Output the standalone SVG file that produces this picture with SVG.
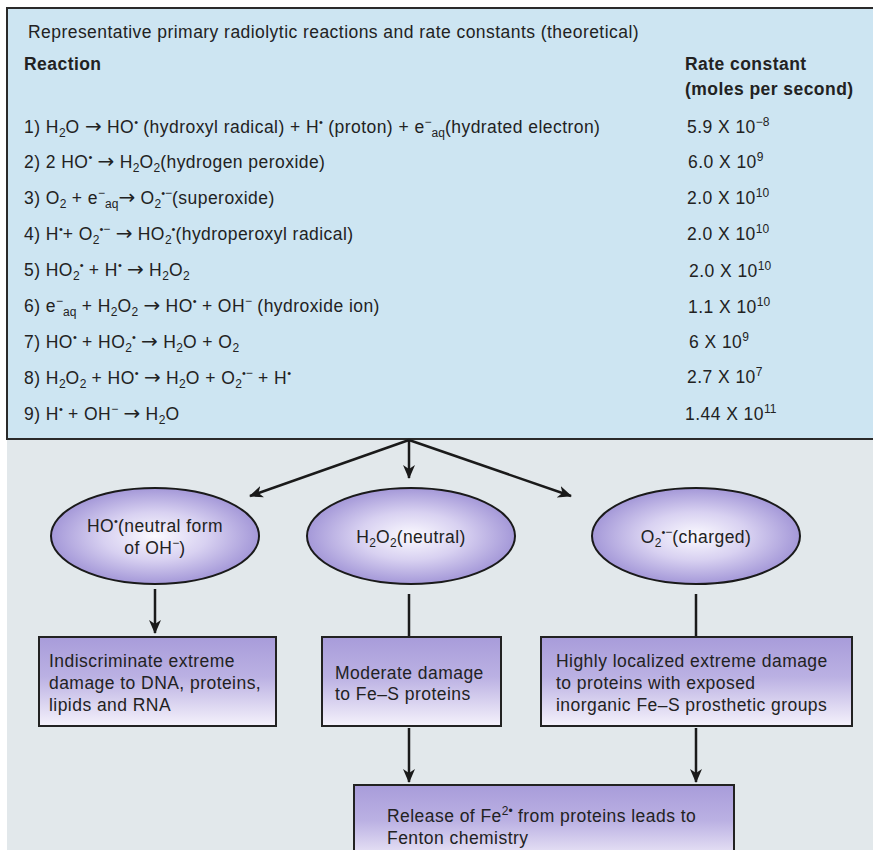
<svg xmlns="http://www.w3.org/2000/svg" width="873" height="850" viewBox="0 0 873 850">
<style>
text{font-family:"Liberation Sans",Arial,Helvetica,sans-serif;font-size:17.5px;letter-spacing:0.45px;fill:#222}
.b{font-weight:bold}
.s{font-size:12px;letter-spacing:0}
.d{font-size:11px;letter-spacing:0}
.a{font-family:"DejaVu Sans",sans-serif;font-size:20px;letter-spacing:0}
.c{text-anchor:middle}
.ln{stroke:#1a1a1a;stroke-width:2.5;fill:none}
.ar{marker-end:url(#ah)}
.box{fill:url(#bg);stroke:#222;stroke-width:2}
.ell{fill:url(#rg);stroke:#1a1a1a;stroke-width:2}
</style>
<defs>
<linearGradient id="bg" x1="0" y1="0" x2="0" y2="1">
<stop offset="0" stop-color="#a89cda"/>
<stop offset="0.45" stop-color="#bbb1e3"/>
<stop offset="1" stop-color="#f5f2fb"/>
</linearGradient>
<radialGradient id="rg" cx="0.5" cy="0.5" r="0.5">
<stop offset="0" stop-color="#fbfaff"/>
<stop offset="0.5" stop-color="#d8d1f1"/>
<stop offset="1" stop-color="#a498d8"/>
</radialGradient>
<marker id="ah" viewBox="0 0 14 12" refX="13" refY="6" markerWidth="14" markerHeight="12" markerUnits="userSpaceOnUse" orient="auto">
<path d="M0,0 L14,6 L0,12 L4,6 z" fill="#1a1a1a"/>
</marker>
</defs>
<rect x="0" y="0" width="873" height="850" fill="#ffffff"/>
<rect x="7" y="439" width="866" height="411" fill="#e2e8eb"/>
<g id="table">
<rect x="7" y="8" width="870" height="431" fill="#cde5f2" stroke="#2a2a2a" stroke-width="2"/>
<text x="28" y="38">Representative primary radiolytic reactions and rate constants (theoretical)</text>
<text x="24" y="70" class="b">Reaction</text>
<text x="685" y="70" class="b">Rate constant</text>
<text x="685" y="95" class="b">(moles per second)</text>
<text x="24" y="133">1) H<tspan class="s" dy="4">2</tspan><tspan dy="-4">O </tspan><tspan class="a">→</tspan><tspan> HO</tspan><tspan class="d" dy="-7">•</tspan><tspan dy="7"> (hydroxyl radical) + H</tspan><tspan class="d" dy="-7">•</tspan><tspan dy="7"> (proton) + e</tspan><tspan class="s" dy="-7">−</tspan><tspan class="s" dy="11">aq</tspan><tspan dy="-4">(hydrated electron)</tspan></text>
<text x="24" y="168">2) 2 HO<tspan class="d" dy="-7">•</tspan><tspan dy="7"> </tspan><tspan class="a">→</tspan><tspan> H</tspan><tspan class="s" dy="4">2</tspan><tspan dy="-4">O</tspan><tspan class="s" dy="4">2</tspan><tspan dy="-4">(hydrogen peroxide)</tspan></text>
<text x="24" y="204">3) O<tspan class="s" dy="4">2</tspan><tspan dy="-4"> + e</tspan><tspan class="s" dy="-7">−</tspan><tspan class="s" dy="11">aq</tspan><tspan class="a" dy="-4">→</tspan><tspan> O</tspan><tspan class="s" dy="4">2</tspan><tspan class="d" dy="-11">•</tspan><tspan class="s">−</tspan><tspan dy="7">(superoxide)</tspan></text>
<text x="24" y="240">4) H<tspan class="d" dy="-7">•</tspan><tspan dy="7">+ O</tspan><tspan class="s" dy="4">2</tspan><tspan class="d" dy="-11">•</tspan><tspan class="s">−</tspan><tspan dy="7"> </tspan><tspan class="a">→</tspan><tspan> HO</tspan><tspan class="s" dy="4">2</tspan><tspan class="d" dy="-11">•</tspan><tspan dy="7">(hydroperoxyl radical)</tspan></text>
<text x="24" y="276">5) HO<tspan class="s" dy="4">2</tspan><tspan class="d" dy="-11">•</tspan><tspan dy="7"> + H</tspan><tspan class="d" dy="-7">•</tspan><tspan dy="7"> </tspan><tspan class="a">→</tspan><tspan> H</tspan><tspan class="s" dy="4">2</tspan><tspan dy="-4">O</tspan><tspan class="s" dy="4">2</tspan></text>
<text x="24" y="312">6) e<tspan class="s" dy="-7">−</tspan><tspan class="s" dy="11">aq</tspan><tspan dy="-4"> + H</tspan><tspan class="s" dy="4">2</tspan><tspan dy="-4">O</tspan><tspan class="s" dy="4">2</tspan><tspan dy="-4"> </tspan><tspan class="a">→</tspan><tspan> HO</tspan><tspan class="d" dy="-7">•</tspan><tspan dy="7"> + OH</tspan><tspan class="s" dy="-7">−</tspan><tspan dy="7"> (hydroxide ion)</tspan></text>
<text x="24" y="348">7) HO<tspan class="d" dy="-7">•</tspan><tspan dy="7"> + HO</tspan><tspan class="s" dy="4">2</tspan><tspan class="d" dy="-11">•</tspan><tspan dy="7"> </tspan><tspan class="a">→</tspan><tspan> H</tspan><tspan class="s" dy="4">2</tspan><tspan dy="-4">O + O</tspan><tspan class="s" dy="4">2</tspan></text>
<text x="24" y="384">8) H<tspan class="s" dy="4">2</tspan><tspan dy="-4">O</tspan><tspan class="s" dy="4">2</tspan><tspan dy="-4"> + HO</tspan><tspan class="d" dy="-7">•</tspan><tspan dy="7"> </tspan><tspan class="a">→</tspan><tspan> H</tspan><tspan class="s" dy="4">2</tspan><tspan dy="-4">O + O</tspan><tspan class="s" dy="4">2</tspan><tspan class="d" dy="-11">•</tspan><tspan class="s">−</tspan><tspan dy="7"> + H</tspan><tspan class="d" dy="-7">•</tspan></text>
<text x="24" y="420">9) H<tspan class="d" dy="-7">•</tspan><tspan dy="7"> + OH</tspan><tspan class="s" dy="-7">−</tspan><tspan dy="7"> </tspan><tspan class="a">→</tspan><tspan> H</tspan><tspan class="s" dy="4">2</tspan><tspan dy="-4">O</tspan></text>
<text x="687" y="133">5.9 X 10<tspan class="s" dy="-7">−8</tspan></text>
<text x="688" y="168">6.0 X 10<tspan class="s" dy="-7">9</tspan></text>
<text x="687" y="204">2.0 X 10<tspan class="s" dy="-7">10</tspan></text>
<text x="687" y="240">2.0 X 10<tspan class="s" dy="-7">10</tspan></text>
<text x="689" y="277">2.0 X 10<tspan class="s" dy="-7">10</tspan></text>
<text x="688" y="313">1.1 X 10<tspan class="s" dy="-7">10</tspan></text>
<text x="689" y="348">6 X 10<tspan class="s" dy="-7">9</tspan></text>
<text x="687" y="383">2.7 X 10<tspan class="s" dy="-7">7</tspan></text>
<text x="685" y="420">1.44 X 10<tspan class="s" dy="-7">11</tspan></text>
</g>
<g id="connectors">
<line class="ln ar" x1="409" y1="440" x2="250" y2="496"/>
<line class="ln ar" x1="409" y1="440" x2="409" y2="478"/>
<line class="ln ar" x1="409" y1="440" x2="571" y2="496"/>
<line class="ln ar" x1="155" y1="589" x2="155" y2="633"/>
<line class="ln" x1="409" y1="594" x2="409" y2="637"/>
<line class="ln" x1="696" y1="594" x2="696" y2="637"/>
<line class="ln ar" x1="409" y1="728" x2="409" y2="782"/>
<line class="ln ar" x1="696" y1="728" x2="696" y2="782"/>
</g>
<g id="ho">
<ellipse class="ell" cx="155" cy="536" rx="104" ry="48"/>
<text class="c" x="155" y="532">HO<tspan class="d" dy="-7">•</tspan><tspan dy="7">(neutral form</tspan></text>
<text class="c" x="155" y="554">of OH<tspan class="s" dy="-7">−</tspan><tspan dy="7">)</tspan></text>
</g>
<g id="h2o2">
<ellipse class="ell" cx="411" cy="536" rx="104" ry="48"/>
<text class="c" x="411" y="543">H<tspan class="s" dy="4">2</tspan><tspan dy="-4">O</tspan><tspan class="s" dy="4">2</tspan><tspan dy="-4">(neutral)</tspan></text>
</g>
<g id="o2">
<ellipse class="ell" cx="696" cy="536" rx="104" ry="48"/>
<text class="c" x="696" y="543">O<tspan class="s" dy="4">2</tspan><tspan class="d" dy="-11">•</tspan><tspan class="s">−</tspan><tspan dy="7">(charged)</tspan></text>
</g>
<g id="box1">
<rect class="box" x="39" y="637" width="237" height="89"/>
<text x="49" y="667">Indiscriminate extreme</text>
<text x="49" y="689">damage to DNA, proteins,</text>
<text x="49" y="711">lipids and RNA</text>
</g>
<g id="box2">
<rect class="box" x="322" y="637" width="179" height="89"/>
<text x="335" y="679">Moderate damage</text>
<text x="335" y="700">to Fe–S proteins</text>
</g>
<g id="box3">
<rect class="box" x="541" y="637" width="311" height="89"/>
<text x="556" y="667">Highly localized extreme damage</text>
<text x="556" y="689">to proteins with exposed</text>
<text x="556" y="711">inorganic Fe–S prosthetic groups</text>
</g>
<g id="box4">
<rect class="box" x="354" y="785" width="380" height="80"/>
<text x="387" y="822">Release of Fe<tspan class="s" dy="-7">2•</tspan><tspan dy="7"> from proteins leads to</tspan></text>
<text x="387" y="844">Fenton chemistry</text>
</g>
</svg>
